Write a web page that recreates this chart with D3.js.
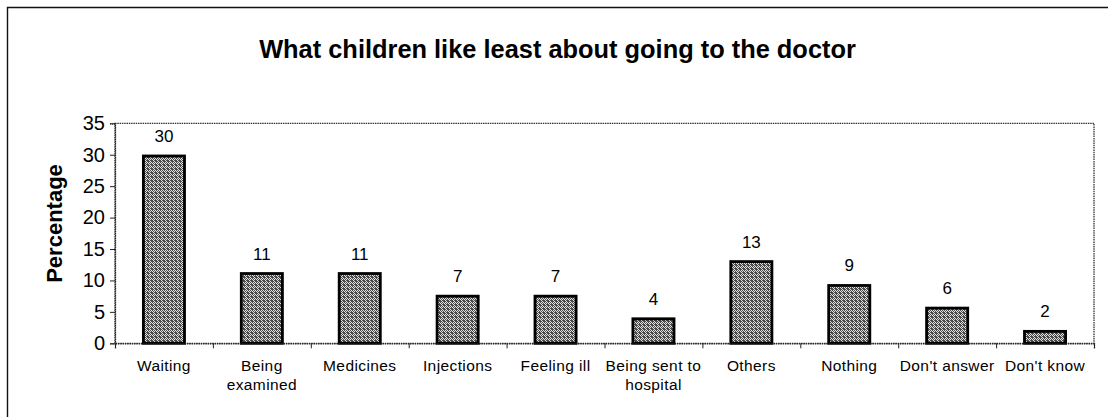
<!DOCTYPE html>
<html>
<head>
<meta charset="utf-8">
<script src="https://cdn.jsdelivr.net/npm/d3@7"></script>
<style>
  html, body { margin: 0; padding: 0; background: #fff; }
  svg { display: block; font-family: Arial, "Liberation Sans", sans-serif; }
</style>
</head>
<body>
<svg id="chart" width="1108" height="417"></svg>
<script>
// ---- data ----
const categories = ["Waiting", "Being examined", "Medicines", "Injections", "Feeling ill",
                    "Being sent to hospital", "Others", "Nothing", "Don't answer", "Don't know"];
const categoryLines = [["Waiting"], ["Being", "examined"], ["Medicines"], ["Injections"], ["Feeling ill"],
                       ["Being sent to", "hospital"], ["Others"], ["Nothing"], ["Don't answer"], ["Don't know"]];
const values = [29.8, 11.1, 11.1, 7.5, 7.5, 3.9, 13.0, 9.2, 5.6, 1.9];
const valueLabels = ["30", "11", "11", "7", "7", "4", "13", "9", "6", "2"];
const yTicks = [0, 5, 10, 15, 20, 25, 30, 35];
const title = "What children like least about going to the doctor";
const yTitle = "Percentage";

// ---- layout ----
const W = 1108, H = 417;
const plot = { left: 115, right: 1094, top: 123.3, bottom: 343.3 };

const svg = d3.select("#chart");

// pattern for bars (fine checker texture)
const defs = svg.append("defs");
const pat = defs.append("pattern")
  .attr("id", "hatch").attr("patternUnits", "userSpaceOnUse")
  .attr("width", 4).attr("height", 4);
pat.append("rect").attr("width", 4).attr("height", 4).attr("fill", "#e2e2e2");
[[0,0],[2,0],[1,1],[3,1],[0,2],[2,2],[1,3],[3,3],[3,0],[0,1]].forEach(([px,py]) =>
  pat.append("rect").attr("x", px).attr("y", py).attr("width", 1).attr("height", 1).attr("fill", "#4a4a4a"));

// outer border
svg.append("path")
  .attr("d", `M7.5,${H} L7.5,7.5 L${W},7.5`)
  .attr("fill", "none").attr("stroke", "#111").attr("stroke-width", 1.4);

// scales
const x = d3.scaleBand().domain(categories)
  .range([plot.left, plot.right]).paddingInner(0.58).paddingOuter(0.29);
const xEdge = d3.scaleLinear().domain([0, categories.length]).range([plot.left, plot.right]);
const y = d3.scaleLinear().domain([0, 35]).range([plot.bottom, plot.top]);

// plot area border (dotted)
svg.append("rect")
  .attr("x", plot.left).attr("y", plot.top)
  .attr("width", plot.right - plot.left).attr("height", plot.bottom - plot.top)
  .attr("fill", "none").attr("stroke", "#333").attr("stroke-width", 1.3)
  .attr("stroke-dasharray", "1.5,0.8");

// bars
svg.append("g").selectAll("rect").data(values).join("rect")
  .attr("x", (d, i) => x(categories[i]))
  .attr("y", d => y(d))
  .attr("width", x.bandwidth())
  .attr("height", d => y(0) - y(d))
  .attr("fill", "url(#hatch)")
  .attr("stroke", "#000").attr("stroke-width", 2.8);

// value labels
svg.append("g").selectAll("text").data(values).join("text")
  .attr("x", (d, i) => x(categories[i]) + x.bandwidth() / 2)
  .attr("y", d => y(d) - 14)
  .attr("text-anchor", "middle")
  .attr("font-size", 17).attr("fill", "#000")
  .text((d, i) => valueLabels[i]);

// y axis
const yAxis = svg.append("g").attr("transform", `translate(${plot.left},0)`)
  .call(d3.axisLeft(y).tickValues(yTicks).tickSize(5).tickPadding(5).tickFormat(d3.format("d")));
yAxis.select(".domain").attr("stroke", "#222").attr("stroke-width", 1.3).attr("stroke-dasharray", "1.5,0.8");
yAxis.selectAll(".tick line").attr("stroke", "#222");
yAxis.selectAll(".tick text").attr("font-size", 20).attr("fill", "#000")
  .attr("font-family", "Arial, 'Liberation Sans', sans-serif");

// x axis (boundary ticks)
const xAxis = svg.append("g").attr("transform", `translate(0,${plot.bottom})`)
  .call(d3.axisBottom(xEdge).tickValues(d3.range(categories.length + 1)).tickSize(5).tickFormat(""));
xAxis.select(".domain").attr("stroke", "#222").attr("stroke-width", 1.3).attr("stroke-dasharray", "1.5,0.8");
xAxis.selectAll(".tick line").attr("stroke", "#222");

// category labels
const catG = svg.append("g").selectAll("text").data(categoryLines).join("text")
  .attr("x", (d, i) => x(categories[i]) + x.bandwidth() / 2)
  .attr("y", 370.5)
  .attr("text-anchor", "middle")
  .attr("letter-spacing", 0.4)
  .attr("font-size", 15.5).attr("fill", "#000");
catG.selectAll("tspan").data(d => d).join("tspan")
  .attr("x", function() { return d3.select(this.parentNode).attr("x"); })
  .attr("dy", (d, j) => j === 0 ? 0 : 19.5)
  .text(d => d);

// title
svg.append("text")
  .attr("x", (258 + 857) / 2).attr("y", 58)
  .attr("text-anchor", "middle")
  .attr("font-size", 25.4).attr("font-weight", "bold").attr("fill", "#000")
  .text(title);

// y title
svg.append("text")
  .attr("transform", `translate(62,${(165 + 282) / 2}) rotate(-90)`)
  .attr("text-anchor", "middle")
  .attr("font-size", 22).attr("font-weight", "bold").attr("fill", "#000")
  .text(yTitle);
</script>
</body>
</html>
